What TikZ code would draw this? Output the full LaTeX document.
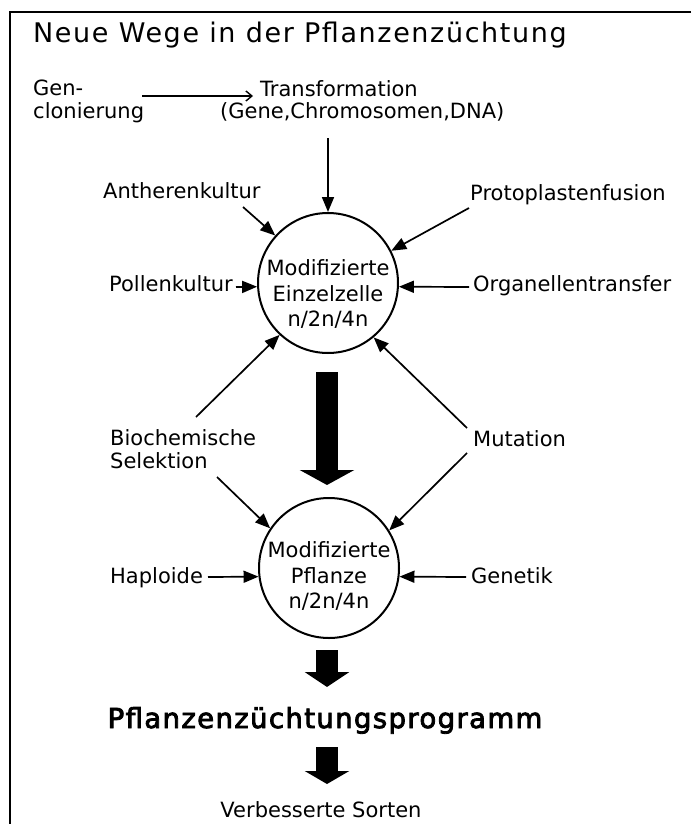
\documentclass[tikz,border=0pt]{standalone}
\usepackage{fontspec}
\setmainfont{DejaVu Sans}
\newfontfamily\titelfont{DejaVu Sans}[LetterSpace=6]
\newfontfamily\progfont{DejaVu Sans}[LetterSpace=5,FakeBold=3]
\usetikzlibrary{arrows.meta,calc,positioning}

\tikzset{
  txt/.style={font=\fontsize{21}{23}\selectfont, inner sep=0pt, anchor=base west},
  pfeil/.style={-{Triangle[length=15pt,width=12pt]}, line width=1.7pt},
  kreis/.style={circle, draw, line width=2pt, minimum size=140pt, inner sep=0pt},
  kreistxt/.style={font=\fontsize{21}{25.5}\selectfont, align=center, inner sep=0pt},
  block/.style 2 args={line width=22pt, -{Triangle[length=#1,width=#2]}}
}

\begin{document}
\begin{tikzpicture}[x=1pt,y=-1pt]
  \path[use as bounding box] (0,0) rectangle (691,824);

  % Frame (top and left only)
  \draw[line width=1.8pt] (691,12) -- (10,12) -- (10,824);

  % Title
  \node[inner sep=0pt, anchor=base west, font=\titelfont\fontsize{27}{30}\selectfont] (titel) at (33,43) {Neue Wege in der Pflanzenzüchtung};

  % Gene cloning -> transformation
  \node[txt, align=left] (gen) at (33,119) {Gen-\\clonierung};
  \node[txt] (trans) at (260,97) {Transformation};
  \node[txt] (transinfo) at (220,119) {(Gene,Chromosomen,DNA)};
  \coordinate (genfuss) at (142,96);
  \draw[-{Straight Barb[length=6pt,width=10pt]}, line width=1.4pt] (genfuss) -- ([xshift=-7pt,yshift=1pt]trans.base west);

  % Modified single cell
  \node[kreis] (zelle) at (328,283) {};
  \node[kreistxt] (zelltext) at (328,294) {Modifizierte\\Einzelzelle\\n/2n/4n};
  \coordinate (transfuss) at (328,138);
  \draw[pfeil] (transfuss) -- (zelle.north);

  % Inputs to the cell
  \node[txt] (anth) at (103,198) {Antherenkultur};
  \node[txt] (proto) at (470,200) {Protoplastenfusion};
  \node[txt] (pollen) at (109,291) {Pollenkultur};
  \node[txt] (organ) at (473,291) {Organellentransfer};
  \coordinate (anthfuss) at (243,207);
  \coordinate (protofuss) at (469,208);
  \coordinate (pollenfuss) at (236,287);
  \coordinate (organfuss) at (469,287);
  \draw[pfeil] (anthfuss) -- (zelle.138);
  \draw[pfeil] (protofuss) -- (zelle.27);
  \draw[pfeil] (pollenfuss) -- (zelle.183);
  \draw[pfeil] (organfuss) -- (zelle.357);

  % Selection and mutation
  \node[txt, align=left] (biochem) at (110,468) {Biochemische\\Selektion};
  \node[txt] (mutation) at (473,446) {Mutation};
  \coordinate (biooben) at (196,417);
  \coordinate (biounten) at (217,477);
  \coordinate (mutoben) at (467,428);
  \coordinate (mutunten) at (467,453);
  \draw[pfeil] (biooben) -- (zelle.227);
  \draw[pfeil] (mutoben) -- (zelle.310);

  % Modified plant
  \node[kreis] (pflanze) at (329,568) {};
  \node[kreistxt] (pflanztext) at (329,576) {Modifizierte\\Pflanze\\n/2n/4n};
  \draw[pfeil] (biounten) -- (pflanze.146);
  \draw[pfeil] (mutunten) -- (pflanze.32);

  \node[txt] (haplo) at (110,583) {Haploide};
  \node[txt] (genetik) at (471,583) {Genetik};
  \coordinate (haplofuss) at (208,577);
  \coordinate (genetikfuss) at (466,577);
  \draw[pfeil] (haplofuss) -- (pflanze.187);
  \draw[pfeil] (genetikfuss) -- (pflanze.353);

  % Big arrows
  \coordinate (b1s) at (327,372);
  \coordinate (b1e) at (327,485);
  \draw[block={15pt}{54pt}] (b1s) -- (b1e);

  \node[inner sep=0pt, anchor=base, font=\progfont\fontsize{27.5}{30}\selectfont] (programm) at (325,728) {Pflanzenzüchtungsprogramm};
  \coordinate (b2s) at (327,650);
  \coordinate (b2e) at (327,687);
  \draw[block={15pt}{44pt}] (b2s) -- (b2e);

  \node[txt, anchor=base] (sorten) at (321,817) {Verbesserte Sorten};
  \coordinate (b3s) at (327,747);
  \coordinate (b3e) at (327,784);
  \draw[block={13pt}{44pt}] (b3s) -- (b3e);
\end{tikzpicture}
\end{document}
